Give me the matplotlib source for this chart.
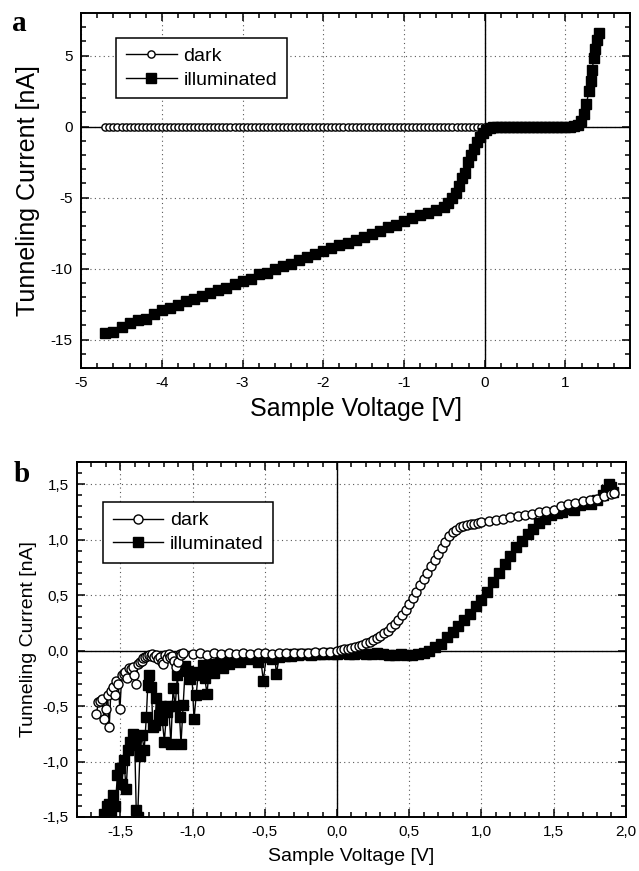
import matplotlib.pyplot as plt
from matplotlib.ticker import MultipleLocator, FuncFormatter

plt.rcParams['font.family'] = ['Liberation Sans', 'DejaVu Sans']
plt.rcParams['axes.unicode_minus'] = False

# ---- panel a ----
a_dark_v = [
	-4.70, -4.65, -4.60, -4.55, -4.50, -4.45, -4.40, -4.35, -4.30, -4.25,
	-4.20, -4.15, -4.10, -4.05, -4.00, -3.95, -3.90, -3.85, -3.80, -3.75,
	-3.70, -3.65, -3.60, -3.55, -3.50, -3.45, -3.40, -3.35, -3.30, -3.25,
	-3.20, -3.15, -3.10, -3.05, -3.00, -2.95, -2.90, -2.85, -2.80, -2.75,
	-2.70, -2.65, -2.60, -2.55, -2.50, -2.45, -2.40, -2.35, -2.30, -2.25,
	-2.20, -2.15, -2.10, -2.05, -2.00, -1.95, -1.90, -1.85, -1.80, -1.75,
	-1.70, -1.65, -1.60, -1.55, -1.50, -1.45, -1.40, -1.35, -1.30, -1.25,
	-1.20, -1.15, -1.10, -1.05, -1.00, -0.95, -0.90, -0.85, -0.80, -0.75,
	-0.70, -0.65, -0.60, -0.55, -0.50, -0.45, -0.40, -0.35, -0.30, -0.25,
	-0.20, -0.15, -0.10, -0.05, 0.00, 0.05, 0.10,
]
a_dark_i = [
	0.0, 0.0, 0.0, 0.0, 0.0, 0.0, 0.0, 0.0, 0.0, 0.0,
	0.0, 0.0, 0.0, 0.0, 0.0, 0.0, 0.0, 0.0, 0.0, 0.0,
	0.0, 0.0, 0.0, 0.0, 0.0, 0.0, 0.0, 0.0, 0.0, 0.0,
	0.0, 0.0, 0.0, 0.0, 0.0, 0.0, 0.0, 0.0, 0.0, 0.0,
	0.0, 0.0, 0.0, 0.0, 0.0, 0.0, 0.0, 0.0, 0.0, 0.0,
	0.0, 0.0, 0.0, 0.0, 0.0, 0.0, 0.0, 0.0, 0.0, 0.0,
	0.0, 0.0, 0.0, 0.0, 0.0, 0.0, 0.0, 0.0, 0.0, 0.0,
	0.0, 0.0, 0.0, 0.0, 0.0, 0.0, 0.0, 0.0, 0.0, 0.0,
	0.0, 0.0, 0.0, 0.0, 0.0, 0.0, 0.0, 0.0, 0.0, 0.0,
	0.0, 0.0, 0.0, 0.0, 0.0, -0.02, -0.05,
]

a_illum_v = [
	-4.7, -4.6, -4.5, -4.4, -4.3, -4.2, -4.1, -4.0, -3.9, -3.8,
	-3.7, -3.6, -3.5, -3.4, -3.3, -3.2, -3.1, -3.0, -2.9, -2.8,
	-2.7, -2.6, -2.5, -2.4, -2.3, -2.2, -2.1, -2.0, -1.9, -1.8,
	-1.7, -1.6, -1.5, -1.4, -1.3, -1.2, -1.1, -1.0, -0.9, -0.8,
	-0.7, -0.6, -0.5, -0.45, -0.40, -0.36, -0.32, -0.28, -0.25, -0.21,
	-0.17, -0.13, -0.10, -0.06, -0.02, 0.02, 0.06, 0.10, 0.15, 0.20,
	0.25, 0.30, 0.35, 0.40, 0.45, 0.50, 0.55, 0.60, 0.65, 0.70,
	0.75, 0.80, 0.85, 0.90, 0.95, 1.00, 1.05, 1.10, 1.15, 1.19,
	1.23, 1.26, 1.29, 1.31, 1.33, 1.35, 1.37, 1.39, 1.41,
]
a_illum_i = [
	-14.5, -14.45, -14.1, -13.8, -13.6, -13.55, -13.2, -12.95, -12.8, -12.55,
	-12.3, -12.15, -11.9, -11.75, -11.5, -11.35, -11.05, -10.85, -10.7, -10.4,
	-10.3, -10.05, -9.8, -9.65, -9.4, -9.2, -9.0, -8.75, -8.55, -8.35,
	-8.2, -7.95, -7.75, -7.55, -7.35, -7.1, -6.9, -6.65, -6.45, -6.25,
	-6.05, -5.85, -5.65, -5.4, -5.05, -4.65, -4.15, -3.6, -3.25, -2.5,
	-2.0, -1.6, -1.1, -0.75, -0.45, -0.25, -0.12, -0.06, -0.03, -0.01,
	0.0, 0.0, 0.0, 0.0, 0.0, 0.0, 0.0, 0.0, 0.0, 0.0,
	0.0, 0.0, 0.0, 0.0, 0.0, 0.0, 0.0, 0.02, 0.1, 0.4,
	0.9, 1.6, 2.5, 3.2, 4.0, 4.8, 5.5, 6.1, 6.6,
]

# ---- panel b ----
b_dark_v = [
	-1.665, -1.652, -1.640, -1.628, -1.612, -1.600, -1.588, -1.577, -1.565, -1.553,
	-1.540, -1.528, -1.515, -1.503, -1.490, -1.478, -1.465, -1.453, -1.440, -1.428,
	-1.415, -1.403, -1.390, -1.378, -1.365, -1.353, -1.340, -1.328, -1.315, -1.303,
	-1.290, -1.278, -1.265, -1.253, -1.240, -1.228, -1.215, -1.203, -1.190, -1.178,
	-1.165, -1.153, -1.140, -1.128, -1.115, -1.103, -1.090, -1.078, -1.065,
	-1.00, -0.95, -0.90, -0.85, -0.80, -0.75, -0.70, -0.65, -0.60, -0.55,
	-0.50, -0.45, -0.40, -0.35, -0.30, -0.25, -0.20, -0.15, -0.10, -0.05, 0.00,
	0.025, 0.05, 0.075, 0.10, 0.125, 0.15, 0.175, 0.20, 0.225, 0.25,
	0.275, 0.30, 0.325, 0.35, 0.375, 0.40, 0.425, 0.45, 0.475, 0.50,
	0.525, 0.55, 0.575, 0.60, 0.625, 0.65, 0.675, 0.70, 0.725, 0.75,
	0.775, 0.80, 0.825, 0.85, 0.875, 0.90, 0.925, 0.95, 0.975, 1.00,
	1.05, 1.10, 1.15, 1.20, 1.25, 1.30, 1.35, 1.40, 1.45, 1.50,
	1.55, 1.60, 1.65, 1.70, 1.75, 1.80, 1.85, 1.90, 1.92,
]
b_dark_i = [
	-0.57, -0.46, -0.45, -0.44, -0.62, -0.53, -0.40, -0.69, -0.36, -0.33,
	-0.40, -0.27, -0.30, -0.53, -0.22, -0.21, -0.19, -0.25, -0.16, -0.17,
	-0.15, -0.22, -0.30, -0.12, -0.10, -0.09, -0.07, -0.06, -0.05, -0.04,
	-0.05, -0.03, -0.06, -0.04, -0.08, -0.06, -0.10, -0.12, -0.04, -0.07,
	-0.03, -0.06, -0.05, -0.09, -0.15, -0.10, -0.03, -0.04, -0.02,
	-0.03, -0.02, -0.04, -0.02, -0.03, -0.02, -0.03, -0.02, -0.03, -0.02,
	-0.02, -0.03, -0.02, -0.02, -0.02, -0.02, -0.02, -0.01, -0.01, -0.01, 0.0,
	0.005, 0.01, 0.015, 0.025, 0.03, 0.04, 0.05, 0.065, 0.08, 0.095,
	0.11, 0.13, 0.155, 0.18, 0.21, 0.24, 0.275, 0.32, 0.37, 0.42,
	0.475, 0.53, 0.59, 0.645, 0.70, 0.76, 0.815, 0.87, 0.925, 0.98,
	1.03, 1.065, 1.09, 1.11, 1.125, 1.135, 1.14, 1.145, 1.15, 1.155,
	1.165, 1.18, 1.19, 1.20, 1.21, 1.225, 1.235, 1.25, 1.26, 1.27,
	1.30, 1.32, 1.33, 1.35, 1.36, 1.37, 1.39, 1.41, 1.42,
]

b_illum_v = [
	-1.61, -1.595, -1.58, -1.565, -1.55, -1.535, -1.52, -1.505, -1.49, -1.475,
	-1.46, -1.445, -1.43, -1.415, -1.40, -1.39, -1.38, -1.365, -1.35, -1.335,
	-1.32, -1.31, -1.30, -1.285, -1.275, -1.26, -1.25, -1.235, -1.22, -1.21,
	-1.195, -1.18, -1.165, -1.15, -1.135, -1.12, -1.105, -1.09, -1.08, -1.065,
	-1.05, -1.035, -1.02, -1.005, -0.99, -0.975, -0.96, -0.945, -0.93, -0.915,
	-0.90, -0.885, -0.87, -0.85, -0.83, -0.81, -0.79, -0.77, -0.75, -0.73,
	-0.71, -0.69, -0.67, -0.65, -0.63, -0.61, -0.59, -0.57, -0.55, -0.53,
	-0.51, -0.49, -0.47, -0.45, -0.43, -0.42, -0.40, -0.38, -0.36, -0.34,
	-0.32, -0.30, -0.27, -0.24, -0.21, -0.18, -0.15, -0.12, -0.09, -0.06,
	-0.03, 0.00, 0.04, 0.08, 0.12, 0.16, 0.20, 0.24, 0.28, 0.32,
	0.36, 0.40, 0.44, 0.48, 0.52, 0.56, 0.60, 0.64, 0.68, 0.72,
	0.76, 0.80, 0.84, 0.88, 0.92, 0.96, 1.00, 1.04, 1.08, 1.12,
	1.16, 1.20, 1.24, 1.28, 1.32, 1.36, 1.40, 1.44, 1.48, 1.52,
	1.56, 1.60, 1.64, 1.68, 1.72, 1.76, 1.80, 1.84, 1.86, 1.88,
	1.90, 1.91,
]
b_illum_i = [
	-1.47, -1.40, -1.38, -1.45, -1.30, -1.40, -1.12, -1.06, -1.20, -0.99,
	-1.25, -0.90, -0.82, -0.75, -0.85, -1.44, -1.50, -0.95, -0.76, -0.90,
	-0.60, -0.31, -0.22, -0.33, -0.69, -0.67, -0.43, -0.58, -0.50, -0.63,
	-0.82, -0.55, -0.50, -0.84, -0.34, -0.50, -0.22, -0.60, -0.84, -0.49,
	-0.14, -0.18, -0.26, -0.20, -0.62, -0.40, -0.19, -0.22, -0.13, -0.25,
	-0.39, -0.17, -0.12, -0.20, -0.14, -0.10, -0.16, -0.09, -0.12, -0.07,
	-0.09, -0.06, -0.10, -0.07, -0.05, -0.08, -0.05, -0.07, -0.10, -0.06,
	-0.27, -0.06, -0.05, -0.08, -0.05, -0.21, -0.06, -0.04, -0.05, -0.04,
	-0.05, -0.03, -0.04, -0.03, -0.03, -0.04, -0.03, -0.03, -0.03, -0.02,
	-0.03, -0.03, -0.02, -0.03, -0.03, -0.02, -0.03, -0.03, -0.02, -0.03,
	-0.04, -0.04, -0.03, -0.04, -0.04, -0.03, -0.02, 0.00, 0.03, 0.06,
	0.12, 0.17, 0.22, 0.28, 0.33, 0.40, 0.46, 0.53, 0.62, 0.70,
	0.78, 0.85, 0.93, 0.99, 1.05, 1.10, 1.15, 1.19, 1.22, 1.24,
	1.25, 1.28, 1.27, 1.31, 1.33, 1.32, 1.36, 1.40, 1.45, 1.50,
	1.47, 1.43,
]


def comma_fmt(v, pos):
	return ('%.1f' % v).replace('.', ',')


def style_axes(ax, xmaj, xmin, ymaj, ymin, size):
	ax.xaxis.set_major_locator(MultipleLocator(xmaj))
	ax.xaxis.set_minor_locator(MultipleLocator(xmin))
	ax.yaxis.set_major_locator(MultipleLocator(ymaj))
	ax.yaxis.set_minor_locator(MultipleLocator(ymin))
	ax.tick_params(which='both', direction='in', top=True, right=True,
		labelsize=size, width=1.1, pad=6)
	ax.tick_params(which='major', length=5.5)
	ax.tick_params(which='minor', length=3.5)
	for s in ax.spines.values():
		s.set_linewidth(1.4)
	ax.grid(True, which='major', linestyle=(0, (1, 3)), color='0.35', linewidth=0.8)
	ax.axhline(0, color='black', lw=1.0, zorder=1.8)
	ax.axvline(0, color='black', lw=1.0, zorder=1.8)


def make_legend(ax, handles, labels, anchor):
	leg = ax.legend(handles, labels, loc='upper left', bbox_to_anchor=anchor,
		borderaxespad=0, fontsize=14, numpoints=1, handlelength=2.6,
		handletextpad=0.35, fancybox=False, edgecolor='black', framealpha=1,
		borderpad=0.5, labelspacing=0.3)
	leg.get_frame().set_linewidth(1.1)
	return leg


fig = plt.figure(figsize=(6.39, 8.71), dpi=100)

# Panel a
ax1 = fig.add_axes([0.127, 0.5775, 0.859, 0.4075])
ax1.plot(a_dark_v, a_dark_i, '-o', color='black', lw=1.0, ms=5.2,
	mfc='white', mec='black', mew=1.0, label='dark')
ax1.plot(a_illum_v, a_illum_i, '-s', color='black', lw=1.0, ms=7,
	mfc='black', mec='black', label='illuminated')
ax1.set_xlim(-5, 1.8)
ax1.set_ylim(-17, 8)
style_axes(ax1, 1, 0.2, 5, 1, 11)
ax1.set_xlabel('Sample Voltage [V]', fontsize=18, labelpad=5)
ax1.set_ylabel('Tunneling Current [nA]', fontsize=18, labelpad=8)
h, l = ax1.get_legend_handles_labels()
make_legend(ax1, h, l, (0.064, 0.93))

# Panel b
ax2 = fig.add_axes([0.1205, 0.062, 0.859, 0.4076])
ax2.plot(b_illum_v, b_illum_i, '-s', color='black', lw=1.0, ms=7.5,
	mfc='black', mec='black', label='illuminated', zorder=2)
ax2.plot(b_dark_v, b_dark_i, '-o', color='black', lw=1.0, ms=6.5,
	mfc='white', mec='black', mew=1.0, label='dark', zorder=3)
ax2.set_xlim(-1.8, 2.0)
ax2.set_ylim(-1.5, 1.7)
style_axes(ax2, 0.5, 0.1, 0.5, 0.1, 11)
ax2.xaxis.set_major_formatter(FuncFormatter(comma_fmt))
ax2.yaxis.set_major_formatter(FuncFormatter(comma_fmt))
ax2.set_xlabel('Sample Voltage [V]', fontsize=14, labelpad=6)
ax2.set_ylabel('Tunneling Current [nA]', fontsize=14, labelpad=4)
h, l = ax2.get_legend_handles_labels()
make_legend(ax2, h[::-1], l[::-1], (0.047, 0.887))

fig.text(0.019, 0.973, 'a', family='Liberation Serif', weight='bold', fontsize=21, va='center')
fig.text(0.022, 0.455, 'b', family='Liberation Serif', weight='bold', fontsize=21, va='center')

plt.savefig('out.png', dpi=100)
